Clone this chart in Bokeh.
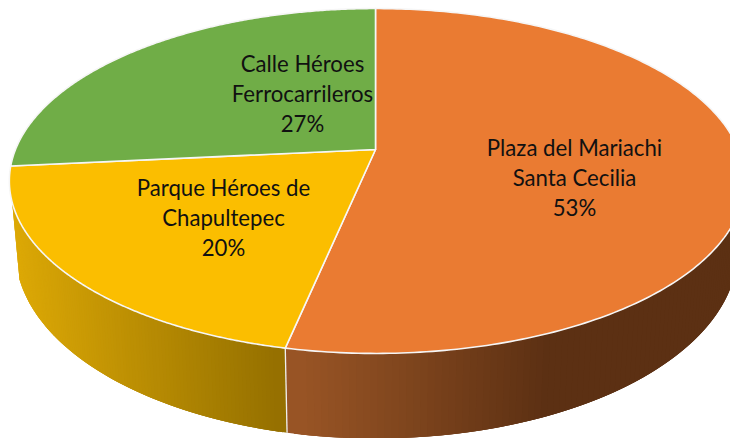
import numpy as np
from bokeh.embed import file_html
from bokeh.models import Range1d
from bokeh.plotting import figure
from bokeh.resources import INLINE
from bokeh.core.properties import value

names = ["Plaza del Mariachi\nSanta Cecilia", "Parque Héroes de\nChapultepec", "Calle Héroes\nFerrocarrileros"]
shares = [53.3, 20.15, 26.55]
percent_labels = ["53%", "20%", "27%"]
top_colors = ["#EA7B32", "#FBBE00", "#70AD47"]
wall_left = ["#995525", "#DDA906", "#70AD47"]
wall_right = ["#5C3013", "#957000", "#70AD47"]
wall_fade_end = [535, 285, 285]
label_x = [574, 223, 302]
label_y = [177, 217, 93]

CX, CY = 375.0, 149.0
A_LEFT, A_RIGHT, B, K = 360.0, 363.0, 166.7, 0.1826
WALL_SCALE_X = 0.98
LOW_CY, LOW_B, LOW_A_LEFT, LOW_A_RIGHT = 251.0, 187.0, 360.0, 362.0
WALL_LIMIT = np.radians(252.5)


def rim(theta):
    """Point on the tilted pie's rim; theta runs clockwise from 12 o'clock, radians."""
    X, Y = np.sin(theta), -np.cos(theta)
    d = 1 - K * Y
    return CX + np.where(X < 0, A_LEFT, A_RIGHT) * X / d, CY + B * Y / d


def lower(x):
    """Point on the outer edge of the wall, below the rim point at x."""
    dx = WALL_SCALE_X * (x - CX)
    a = np.where(dx < 0, LOW_A_LEFT, LOW_A_RIGHT)
    return CX + dx, LOW_CY + LOW_B * np.sqrt(np.clip(1 - (dx / a) ** 2, 0, 1))


def mix(c1, c2, t):
    t = float(np.clip(t, 0, 1))
    a = [int(c1[i:i + 2], 16) for i in (1, 3, 5)]
    b = [int(c2[i:i + 2], 16) for i in (1, 3, 5)]
    return "#%02x%02x%02x" % tuple(round(p + (q - p) * t) for p, q in zip(a, b))


p = figure(width=730, height=438, output_backend="svg", toolbar_location=None,
           x_range=Range1d(0, 730), y_range=Range1d(438, 0),
           min_border=0, outline_line_color=None, background_fill_color="white",
           border_fill_color="white")
p.axis.visible = False
p.grid.visible = False

fractions = np.cumsum([0] + shares) / sum(shares) * 2 * np.pi
bounds = list(zip(fractions[:-1], fractions[1:]))

# side walls: overlapping strips in the visible front part, shaded from left to right
for i, (t0, t1) in enumerate(bounds):
    lo, hi = max(t0, np.pi / 2), min(t1, WALL_LIMIT)
    if lo >= hi:
        continue
    th = np.linspace(lo, hi, 110)
    xt, yt = rim(th)
    xb, yb = lower(xt)
    x0 = float(xt[-1]) if i == 0 else float(np.min(xt))
    x1 = wall_fade_end[i]
    xs, ys, cs = [], [], []
    n = len(th)
    idx = range(n - 1) if i == 0 else range(n - 2, -1, -1)
    for j in idx:
        a0, a1 = (max(j - 2, 0), j + 1) if i == 0 else (j, min(j + 3, n - 1))
        xs.append([xt[a0], xt[a1], xb[a1], xb[a0]])
        ys.append([yt[a0], yt[a1], yb[a1], yb[a0]])
        t = (0.5 * (xt[j] + xt[j + 1]) - x0) / (x1 - x0)
        cs.append(mix(wall_left[i], wall_right[i], t))
    p.patches(xs, ys, fill_color=cs, line_color=None)

# divider on the wall where two front slices meet
for t in fractions[1:-1]:
    if np.pi / 2 < t < WALL_LIMIT:
        xt, yt = rim(t)
        xb, yb = lower(xt)
        p.line([xt, xb], [yt, yb], line_color="#EFEFEF", line_width=1.3)

# top face
for i, (t0, t1) in enumerate(bounds):
    th = np.linspace(t0, t1, 240)
    xr, yr = rim(th)
    p.patch(np.r_[CX, xr], np.r_[CY, yr], fill_color=top_colors[i],
            line_color="#F6F6F6", line_width=1.6, line_join="round")

for name, pct, x, y in zip(names, percent_labels, label_x, label_y):
    p.text([x], [y], text=[name + "\n" + pct], text_align="center", text_baseline="middle",
           text_font=value("Lato"), text_font_size="22.2px", text_color="#111111",
           text_line_height=1.1)

open("out.html", "w").write(file_html(p, INLINE))
